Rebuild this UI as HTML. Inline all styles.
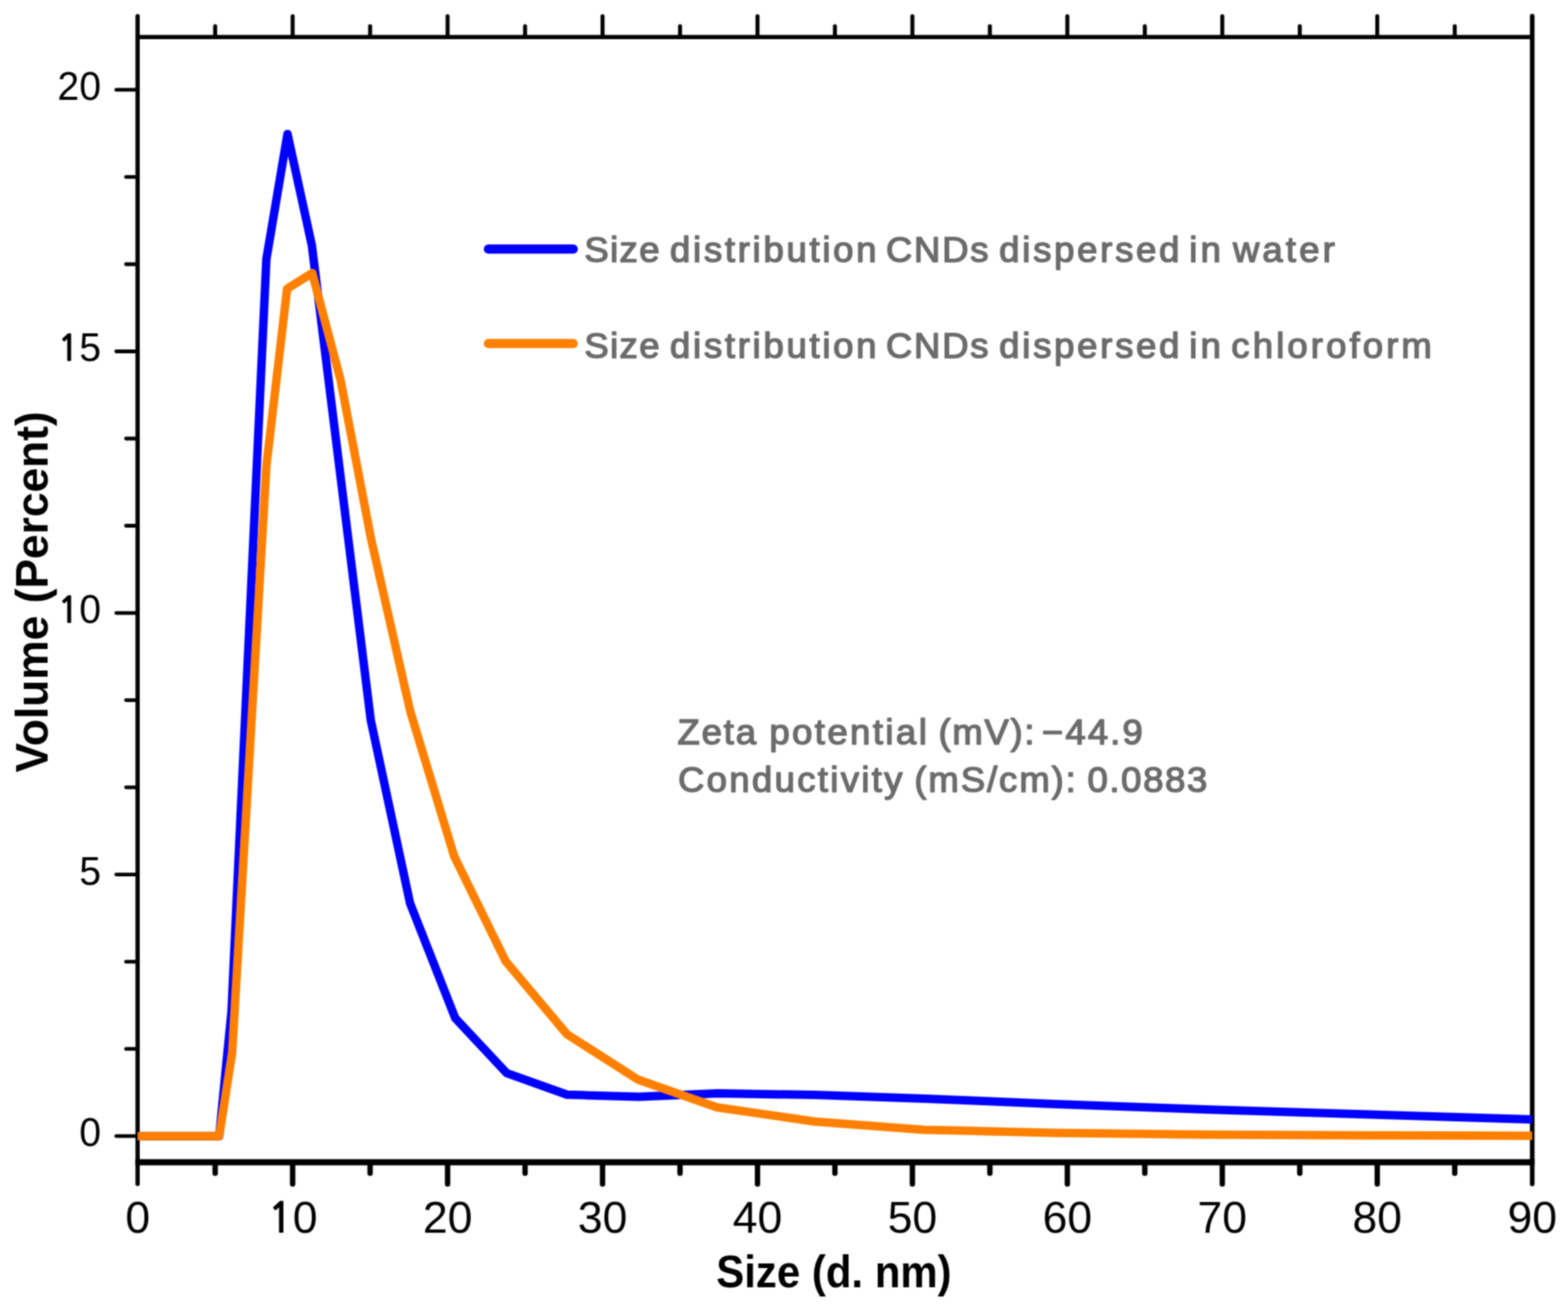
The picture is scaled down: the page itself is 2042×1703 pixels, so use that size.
<!DOCTYPE html>
<html><head><meta charset="utf-8"><title>Size distribution</title>
<style>
html,body{margin:0;padding:0;background:#fff;}
body{width:2042px;height:1703px;overflow:hidden;}
svg{display:block;}
.r{font-family:"Liberation Sans",Arial,sans-serif;fill:#000;}
.one{font-family:"NanumGothic","Liberation Sans",sans-serif;font-weight:bold;font-size:0.925em;letter-spacing:-0.003em;}
.b{font-family:"Liberation Sans",Arial,sans-serif;font-weight:bold;fill:#000;}
.g{font-family:"Liberation Sans",Arial,sans-serif;fill:#6b6b6b;stroke:#6b6b6b;stroke-width:1.7px;stroke-linejoin:round;}
</style></head>
<body>
<svg width="2042" height="1703" viewBox="0 0 2042 1703">
<defs><filter id="soft" filterUnits="userSpaceOnUse" x="0" y="0" width="2042" height="1703" color-interpolation-filters="sRGB">
<feConvolveMatrix in="SourceGraphic" order="5" kernelMatrix="1 8 16 8 1 8 64 128 64 8 16 128 256 128 16 8 64 128 64 8 1 8 16 8 1" divisor="1156" edgeMode="duplicate"/>
</filter></defs>
<g filter="url(#soft)">
<rect width="2042" height="1703" fill="#fff"/>
<line x1="179.3" y1="48.3" x2="1995.4" y2="48.3" stroke="#000" stroke-width="5.6"/>
<line x1="176.3" y1="1513.3" x2="1998.4" y2="1513.3" stroke="#000" stroke-width="8"/>
<line x1="179.20000000000002" y1="21" x2="179.20000000000002" y2="1541.5" stroke="#000" stroke-width="5.6" stroke-linecap="round"/>
<line x1="1995.4" y1="21" x2="1995.4" y2="1541.5" stroke="#000" stroke-width="6" stroke-linecap="round"/>
<line x1="280.2" y1="48.3" x2="280.2" y2="34.2" stroke="#000" stroke-width="5.2" stroke-linecap="round"/>
<line x1="280.2" y1="1513.3" x2="280.2" y2="1527.6" stroke="#000" stroke-width="7" stroke-linecap="round"/>
<line x1="381.1" y1="48.3" x2="381.1" y2="21" stroke="#000" stroke-width="5.2" stroke-linecap="round"/>
<line x1="381.1" y1="1513.3" x2="381.1" y2="1541.4" stroke="#000" stroke-width="7" stroke-linecap="round"/>
<line x1="482.0" y1="48.3" x2="482.0" y2="34.2" stroke="#000" stroke-width="5.2" stroke-linecap="round"/>
<line x1="482.0" y1="1513.3" x2="482.0" y2="1527.6" stroke="#000" stroke-width="7" stroke-linecap="round"/>
<line x1="582.9" y1="48.3" x2="582.9" y2="21" stroke="#000" stroke-width="5.2" stroke-linecap="round"/>
<line x1="582.9" y1="1513.3" x2="582.9" y2="1541.4" stroke="#000" stroke-width="7" stroke-linecap="round"/>
<line x1="683.8" y1="48.3" x2="683.8" y2="34.2" stroke="#000" stroke-width="5.2" stroke-linecap="round"/>
<line x1="683.8" y1="1513.3" x2="683.8" y2="1527.6" stroke="#000" stroke-width="7" stroke-linecap="round"/>
<line x1="784.7" y1="48.3" x2="784.7" y2="21" stroke="#000" stroke-width="5.2" stroke-linecap="round"/>
<line x1="784.7" y1="1513.3" x2="784.7" y2="1541.4" stroke="#000" stroke-width="7" stroke-linecap="round"/>
<line x1="885.6" y1="48.3" x2="885.6" y2="34.2" stroke="#000" stroke-width="5.2" stroke-linecap="round"/>
<line x1="885.6" y1="1513.3" x2="885.6" y2="1527.6" stroke="#000" stroke-width="7" stroke-linecap="round"/>
<line x1="986.5" y1="48.3" x2="986.5" y2="21" stroke="#000" stroke-width="5.2" stroke-linecap="round"/>
<line x1="986.5" y1="1513.3" x2="986.5" y2="1541.4" stroke="#000" stroke-width="7" stroke-linecap="round"/>
<line x1="1087.3" y1="48.3" x2="1087.3" y2="34.2" stroke="#000" stroke-width="5.2" stroke-linecap="round"/>
<line x1="1087.3" y1="1513.3" x2="1087.3" y2="1527.6" stroke="#000" stroke-width="7" stroke-linecap="round"/>
<line x1="1188.2" y1="48.3" x2="1188.2" y2="21" stroke="#000" stroke-width="5.2" stroke-linecap="round"/>
<line x1="1188.2" y1="1513.3" x2="1188.2" y2="1541.4" stroke="#000" stroke-width="7" stroke-linecap="round"/>
<line x1="1289.1" y1="48.3" x2="1289.1" y2="34.2" stroke="#000" stroke-width="5.2" stroke-linecap="round"/>
<line x1="1289.1" y1="1513.3" x2="1289.1" y2="1527.6" stroke="#000" stroke-width="7" stroke-linecap="round"/>
<line x1="1390.0" y1="48.3" x2="1390.0" y2="21" stroke="#000" stroke-width="5.2" stroke-linecap="round"/>
<line x1="1390.0" y1="1513.3" x2="1390.0" y2="1541.4" stroke="#000" stroke-width="7" stroke-linecap="round"/>
<line x1="1490.9" y1="48.3" x2="1490.9" y2="34.2" stroke="#000" stroke-width="5.2" stroke-linecap="round"/>
<line x1="1490.9" y1="1513.3" x2="1490.9" y2="1527.6" stroke="#000" stroke-width="7" stroke-linecap="round"/>
<line x1="1591.8" y1="48.3" x2="1591.8" y2="21" stroke="#000" stroke-width="5.2" stroke-linecap="round"/>
<line x1="1591.8" y1="1513.3" x2="1591.8" y2="1541.4" stroke="#000" stroke-width="7" stroke-linecap="round"/>
<line x1="1692.7" y1="48.3" x2="1692.7" y2="34.2" stroke="#000" stroke-width="5.2" stroke-linecap="round"/>
<line x1="1692.7" y1="1513.3" x2="1692.7" y2="1527.6" stroke="#000" stroke-width="7" stroke-linecap="round"/>
<line x1="1793.6" y1="48.3" x2="1793.6" y2="21" stroke="#000" stroke-width="5.2" stroke-linecap="round"/>
<line x1="1793.6" y1="1513.3" x2="1793.6" y2="1541.4" stroke="#000" stroke-width="7" stroke-linecap="round"/>
<line x1="1894.5" y1="48.3" x2="1894.5" y2="34.2" stroke="#000" stroke-width="5.2" stroke-linecap="round"/>
<line x1="1894.5" y1="1513.3" x2="1894.5" y2="1527.6" stroke="#000" stroke-width="7" stroke-linecap="round"/>
<line x1="179.3" y1="1479.2" x2="151.4" y2="1479.2" stroke="#000" stroke-width="4.8" stroke-linecap="round"/>
<line x1="179.3" y1="1365.7" x2="164.1" y2="1365.7" stroke="#000" stroke-width="4.8" stroke-linecap="round"/>
<line x1="179.3" y1="1252.2" x2="164.1" y2="1252.2" stroke="#000" stroke-width="4.8" stroke-linecap="round"/>
<line x1="179.3" y1="1138.6" x2="151.4" y2="1138.6" stroke="#000" stroke-width="4.8" stroke-linecap="round"/>
<line x1="179.3" y1="1025.1" x2="164.1" y2="1025.1" stroke="#000" stroke-width="4.8" stroke-linecap="round"/>
<line x1="179.3" y1="911.6" x2="164.1" y2="911.6" stroke="#000" stroke-width="4.8" stroke-linecap="round"/>
<line x1="179.3" y1="798.1" x2="151.4" y2="798.1" stroke="#000" stroke-width="4.8" stroke-linecap="round"/>
<line x1="179.3" y1="684.5" x2="164.1" y2="684.5" stroke="#000" stroke-width="4.8" stroke-linecap="round"/>
<line x1="179.3" y1="571.0" x2="164.1" y2="571.0" stroke="#000" stroke-width="4.8" stroke-linecap="round"/>
<line x1="179.3" y1="457.5" x2="151.4" y2="457.5" stroke="#000" stroke-width="4.8" stroke-linecap="round"/>
<line x1="179.3" y1="344.0" x2="164.1" y2="344.0" stroke="#000" stroke-width="4.8" stroke-linecap="round"/>
<line x1="179.3" y1="230.4" x2="164.1" y2="230.4" stroke="#000" stroke-width="4.8" stroke-linecap="round"/>
<line x1="179.3" y1="116.9" x2="151.4" y2="116.9" stroke="#000" stroke-width="4.8" stroke-linecap="round"/>
<polyline points="179.3,1479.2 285.5,1479.2 301.5,1317.0 346.9,337.5 374.4,174.5 406.1,319.2 482.9,937.9 534.1,1176.3 592.8,1325.4 659.7,1397.1 738.4,1425.3 832.3,1428.0 935.0,1423.5 1061.0,1425.6 1206.0,1430.6 1374.0,1437.4 1570.0,1444.5 1798.0,1451.5 1995.4,1457.5" fill="none" stroke="#0000ff" stroke-width="11" stroke-linejoin="round" stroke-linecap="butt"/>
<polyline points="179.3,1479.2 285.5,1479.2 302.4,1370.4 347.0,606.0 373.9,376.0 406.6,355.5 443.5,494.6 482.9,700.0 534.3,926.1 591.6,1115.2 658.5,1251.5 738.4,1346.6 831.2,1405.8 933.7,1441.7 1061.0,1460.2 1203.0,1470.9 1374.0,1475.0 1570.0,1477.2 1798.0,1478.3 1995.4,1478.8" fill="none" stroke="#ff8000" stroke-width="11" stroke-linejoin="round" stroke-linecap="butt"/>
<text x="131.5" y="1492.1" font-size="51" text-anchor="end" class="r">0</text>
<text x="131.5" y="1151.5" font-size="51" text-anchor="end" class="r">5</text>
<text x="131.5" y="811.0" font-size="51" text-anchor="end" class="r"><tspan class="one">1</tspan>0</text>
<text x="131.5" y="470.4" font-size="51" text-anchor="end" class="r"><tspan class="one">1</tspan>5</text>
<text x="131.5" y="129.8" font-size="51" text-anchor="end" class="r">20</text>
<text x="179.3" y="1605.2" font-size="58" text-anchor="middle" class="r">0</text>
<text x="381.1" y="1605.2" font-size="58" text-anchor="middle" class="r"><tspan class="one">1</tspan>0</text>
<text x="582.9" y="1605.2" font-size="58" text-anchor="middle" class="r">20</text>
<text x="784.7" y="1605.2" font-size="58" text-anchor="middle" class="r">30</text>
<text x="986.5" y="1605.2" font-size="58" text-anchor="middle" class="r">40</text>
<text x="1188.2" y="1605.2" font-size="58" text-anchor="middle" class="r">50</text>
<text x="1390.0" y="1605.2" font-size="58" text-anchor="middle" class="r">60</text>
<text x="1591.8" y="1605.2" font-size="58" text-anchor="middle" class="r">70</text>
<text x="1793.6" y="1605.2" font-size="58" text-anchor="middle" class="r">80</text>
<text x="1995.4" y="1605.2" font-size="58" text-anchor="middle" class="r">90</text>
<text transform="translate(1086,1676) scale(0.911,1)" x="0" y="0" font-size="60" text-anchor="middle" class="b">Size (d. nm)</text>
<text transform="translate(61.6,1005.7) rotate(-90) scale(0.978,1)" x="0" y="0" font-size="59" class="b">Volume (Percent)</text>
<line x1="636" y1="324.3" x2="746.5" y2="324.3" stroke="#0000ff" stroke-width="12" stroke-linecap="round"/>
<line x1="636" y1="447.3" x2="746.5" y2="447.3" stroke="#ff8000" stroke-width="12" stroke-linecap="round"/>
<text transform="scale(1.04,1)" y="341.5" font-size="45.7" class="g"><tspan x="731.62" style="letter-spacing:1.799px">Size</tspan> <tspan x="838.99" style="letter-spacing:3.421px">distribution</tspan> <tspan x="1109.27" style="letter-spacing:2.242px">CNDs</tspan> <tspan x="1251.20" style="letter-spacing:3.447px">dispersed</tspan> <tspan x="1489.11" style="letter-spacing:4.110px">in</tspan> <tspan x="1543.96" style="letter-spacing:3.918px">water</tspan></text>
<text transform="scale(1.04,1)" y="465.7" font-size="45.7" class="g"><tspan x="731.62" style="letter-spacing:1.799px">Size</tspan> <tspan x="838.99" style="letter-spacing:3.421px">distribution</tspan> <tspan x="1109.27" style="letter-spacing:2.242px">CNDs</tspan> <tspan x="1251.20" style="letter-spacing:3.447px">dispersed</tspan> <tspan x="1489.11" style="letter-spacing:4.110px">in</tspan> <tspan x="1541.95" style="letter-spacing:3.905px">chloroform</tspan></text>
<text transform="scale(1.04,1)" y="968.6" font-size="45.7" class="g"><tspan x="848.31" style="letter-spacing:2.341px">Zeta</tspan> <tspan x="963.36" style="letter-spacing:3.059px">potential</tspan> <tspan x="1175.19" style="letter-spacing:2.148px">(mV):</tspan> <tspan x="1304.82" style="letter-spacing:2.629px">−44.9</tspan></text>
<text transform="scale(1.04,1)" y="1031.5" font-size="45.7" class="g"><tspan x="848.98" style="letter-spacing:2.939px">Conductivity</tspan> <tspan x="1145.00" style="letter-spacing:2.414px">(mS/cm):</tspan> <tspan x="1361.72" style="letter-spacing:2.053px">0.0883</tspan></text>
</g>
</svg>
</body></html>
